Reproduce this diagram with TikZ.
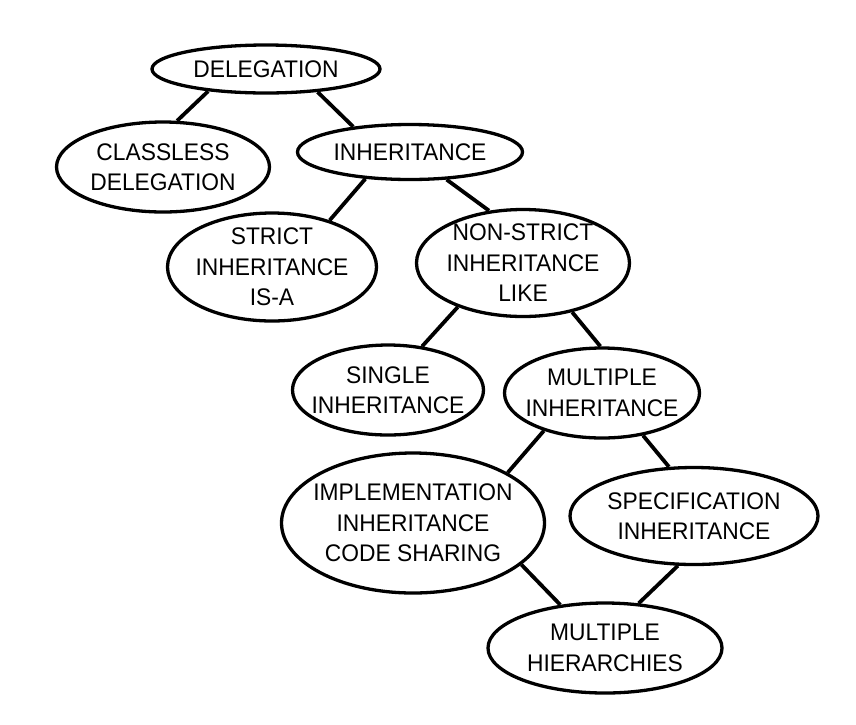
\documentclass[tikz,border=0pt]{standalone}
\usepackage{fontspec}
\newfontfamily\schemafont[FakeStretch=0.95]{Liberation Sans}
\usetikzlibrary{shapes.geometric}
\begin{document}
\begin{tikzpicture}[x=1pt, y=-1pt,
		ellisse/.style={draw, ellipse, line width=3.3pt, inner xsep=-45pt, inner ysep=-25pt, align=center, font=\schemafont\fontsize{24}{30.5}\selectfont},
		collegamento/.style={line width=3.8pt}]
		
		\useasboundingbox (0,0) rectangle (856,724);
		
		%Disegno i nodi dei primi due livelli
		\node (delegation) at (266,69) [ellisse, minimum width=228pt, minimum height=48pt]{DELEGATION};
		
		\node (classlessDelegation) at (163,167) [ellisse, minimum width=213pt, minimum height=90pt]{CLASSLESS\\DELEGATION};
		
		\node (inheritance) at (410,152) [ellisse, minimum width=225pt, minimum height=55pt]{INHERITANCE};
		
		%Disegno i nodi del terzo e quarto livello
		\node (strictInheritance) at (272,267) [ellisse, minimum width=209pt, minimum height=108pt]{STRICT\\INHERITANCE\\IS-A};
		
		\node (nonStrictInheritance) at (523,263) [ellisse, minimum width=213pt, minimum height=107pt]{NON-STRICT\\INHERITANCE\\LIKE};
		
		\node (singleInheritance) at (388,390) [ellisse, minimum width=191pt, minimum height=90pt]{SINGLE\\INHERITANCE};
		
		\node (multipleInheritance) at (602,393) [ellisse, minimum width=195pt, minimum height=90pt]{MULTIPLE\\INHERITANCE};
		
		%Disegno i nodi degli ultimi livelli
		\node (implementationInheritance) at (413,523) [ellisse, minimum width=263pt, minimum height=140pt]{IMPLEMENTATION\\INHERITANCE\\CODE SHARING};
		
		\node (specificationInheritance) at (694,516) [ellisse, minimum width=248pt, minimum height=97pt]{SPECIFICATION\\INHERITANCE};
		
		\node (multipleHierarchies) at (605,648) [ellisse, minimum width=234pt, minimum height=90pt]{MULTIPLE\\HIERARCHIES};
		
		%Disegno i collegamenti
		\draw[collegamento] (delegation.201) -- (classlessDelegation.73);
		
		\draw[collegamento] (delegation.336) -- (inheritance.156);
		
		\draw[collegamento] (inheritance.211) -- (strictInheritance.39);
		
		\draw[collegamento] (inheritance.323) -- (nonStrictInheritance.123);
		
		\draw[collegamento] (nonStrictInheritance.214) -- (singleInheritance.52);
		
		\draw[collegamento] (nonStrictInheritance.315) -- (multipleInheritance.92);
		
		\draw[collegamento] (multipleInheritance.213) -- (implementationInheritance.28);
		
		\draw[collegamento] (multipleInheritance.314) -- (specificationInheritance.117);
		
		\draw[collegamento] (implementationInheritance.339) -- (multipleHierarchies.136);
		
		\draw[collegamento] (specificationInheritance.252) -- (multipleHierarchies.53);
		
		
		\end{tikzpicture}
\end{document}
